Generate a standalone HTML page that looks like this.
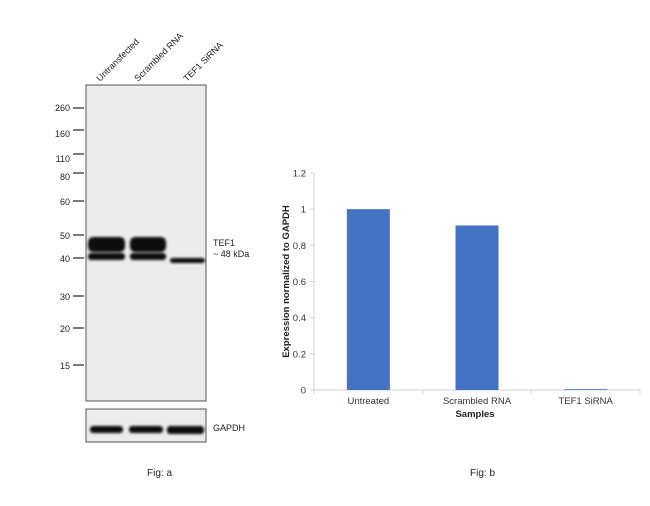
<!DOCTYPE html>
<html><head><meta charset="utf-8">
<style>
html,body{margin:0;padding:0;background:#fff;}
body{width:650px;height:506px;overflow:hidden;font-family:"Liberation Sans",Arial,sans-serif;}
svg{position:absolute;left:0;top:0;}
</style></head>
<body>
<svg width="650" height="506" viewBox="0 0 650 506" xmlns="http://www.w3.org/2000/svg" font-family="Liberation Sans, Arial, sans-serif">
  <defs>
    <filter id="blur" x="-10%" y="-50%" width="120%" height="200%"><feGaussianBlur stdDeviation="1.2"/></filter>
  </defs>
  <g>
    <g font-size="9" fill="#222">
      <text transform="translate(100,82) rotate(-45)">Untransfected</text>
      <text transform="translate(138,82) rotate(-45)">Scrambled RNA</text>
      <text transform="translate(187,82) rotate(-45)">TEF1 SiRNA</text>
    </g>
    <rect x="86" y="85" width="120" height="316" fill="#ececec" stroke="#555" stroke-width="1"/>
    <g font-size="9" fill="#222" text-anchor="end" stroke-width="1.3">
      <line x1="73" y1="108" x2="84" y2="108" stroke="#333"/><text x="70" y="111">260</text>
      <line x1="73" y1="130" x2="84" y2="130" stroke="#333"/><text x="70" y="137">160</text>
      <line x1="73" y1="154" x2="84" y2="154" stroke="#333"/><text x="70" y="162">110</text>
      <line x1="73" y1="173" x2="84" y2="173" stroke="#333"/><text x="70" y="180">80</text>
      <line x1="73" y1="201" x2="84" y2="201" stroke="#333"/><text x="70" y="205">60</text>
      <line x1="73" y1="235" x2="84" y2="235" stroke="#333"/><text x="70" y="239">50</text>
      <line x1="73" y1="258" x2="84" y2="258" stroke="#333"/><text x="70" y="262">40</text>
      <line x1="73" y1="296" x2="84" y2="296" stroke="#333"/><text x="70" y="300">30</text>
      <line x1="73" y1="328" x2="84" y2="328" stroke="#333"/><text x="70" y="332">20</text>
      <line x1="73" y1="365" x2="84" y2="365" stroke="#333"/><text x="70" y="369">15</text>
    </g>
    <g fill="#111" filter="url(#blur)">
      <rect x="88" y="237" width="37" height="15" rx="5"/>
      <rect x="88" y="253" width="37" height="7" rx="3"/>
      <rect x="130" y="237" width="36" height="15" rx="5"/>
      <rect x="130" y="253" width="36" height="7" rx="3"/>
      <rect x="170" y="258" width="35" height="5" rx="2.5"/>
    </g>
    <text x="213" y="246" font-size="9" fill="#222">TEF1</text>
    <text x="213" y="257" font-size="9" fill="#222">~ 48 kDa</text>
    <rect x="86" y="409" width="120" height="33" fill="#ececec" stroke="#555" stroke-width="1"/>
    <g fill="#111" filter="url(#blur)">
      <rect x="90" y="426" width="33" height="7" rx="3"/>
      <rect x="129" y="426" width="34" height="7" rx="3"/>
      <rect x="167" y="426" width="37" height="8" rx="3"/>
    </g>
    <text x="213" y="431" font-size="9" fill="#222">GAPDH</text>
  </g>
  <text x="147" y="476" font-size="10" fill="#222">Fig: a</text>
  <text x="470" y="476" font-size="10" fill="#222">Fig: b</text>
  <g id="chart"></g>
</svg>
<script>
const categories = ["Untreated", "Scrambled RNA", "TEF1 SiRNA"];
const values = [1.0, 0.91, 0.003];
const yTicks = [0, 0.2, 0.4, 0.6, 0.8, 1, 1.2];
const yTickLabels = ["0", "0.2", "0.4", "0.6", "0.8", "1", "1.2"];

const NS = "http://www.w3.org/2000/svg";
const g = document.getElementById("chart");
const x0 = 314, x1 = 640, yBase = 390, yTop = 173, yMax = 1.2;
const band = (x1 - x0) / categories.length;
const barW = 43;
function yScale(v){ return yBase - (v / yMax) * (yBase - yTop); }
function xBand(i){ return x0 + band * i; }
function mk(tag, attrs){ const e = document.createElementNS(NS, tag); for (const k in attrs) e.setAttribute(k, attrs[k]); g.appendChild(e); return e; }

const ya = mk("line", {x1:x0, y1:yTop, x2:x0, y2:yBase, stroke:"#d0d0d0", "stroke-width":1});


yTicks.forEach((t, i) => {
  const y = yScale(t);
  const tk = mk("line", {x1:x0-4, y1:y, x2:x0, y2:y, stroke:"#d0d0d0", "stroke-width":1});
  
  
  const tl = mk("text", {x:x0-8, y:y+3.5, "font-size":9.5, fill:"#333", "text-anchor":"end"});
  tl.textContent = yTickLabels[i];
  
  
});
const xa = mk("line", {x1:x0, y1:yBase, x2:x1, y2:yBase, stroke:"#d0d0d0", "stroke-width":1});


for (let i = 0; i <= categories.length; i++) {
  const xs = xBand(i);
  const sep = mk("line", {x1:xs, y1:yBase, x2:xs, y2:yBase+4, stroke:"#d0d0d0", "stroke-width":1});
  
  
}
categories.forEach((c, i) => {
  const cx = xBand(i) + band / 2;
  const h = Math.max(yBase - yScale(values[i]), 0.8);
  const b = mk("rect", {x:cx - barW/2, y:yBase - h, width:barW, height:h, fill:"#4472c4"});
  
  
  const l = mk("text", {x:cx, y:yBase+14, "font-size":9.5, fill:"#333", "text-anchor":"middle"});
  l.textContent = c;
  
  
});
const xt = mk("text", {x:(x0+x1)/2 - 2, y:yBase+27, "font-size":9.5, "font-weight":"bold", fill:"#222", "text-anchor":"middle"});
xt.textContent = "Samples";


const yt = mk("text", {x:0, y:0, "font-size":9.5, "font-weight":"bold", fill:"#222", "text-anchor":"middle", transform:"translate(289," + ((yTop+yBase)/2) + ") rotate(-90)"});
yt.textContent = "Expression normalized to GAPDH";


</script>
</body></html>
